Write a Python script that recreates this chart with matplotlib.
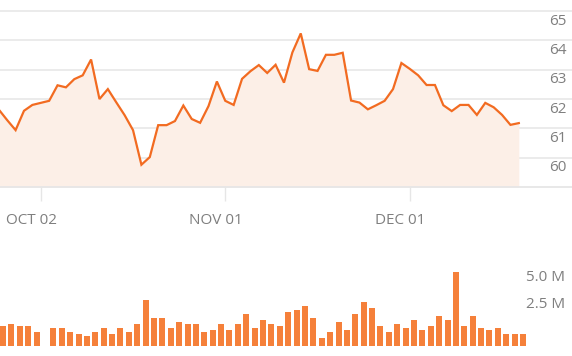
import numpy as np
import matplotlib
matplotlib.use("Agg")
import matplotlib.pyplot as plt
from matplotlib.transforms import ScaledTranslation

plt.rcParams['font.family'] = ['Open Sans', 'DejaVu Sans']

# closing price, one value per trading day
price = [61.64, 61.28, 60.94, 61.60, 61.80, 61.87, 61.94, 62.47, 62.40, 62.68,
         62.81, 63.35, 62.00, 62.34, 61.89, 61.45, 60.94, 59.76, 60.02, 61.11,
         61.11, 61.25, 61.78, 61.32, 61.19, 61.76, 62.60, 61.94, 61.80, 62.69,
         62.95, 63.16, 62.89, 63.17, 62.56, 63.59, 64.24, 63.02, 62.96, 63.51,
         63.51, 63.58, 61.95, 61.88, 61.65, 61.79, 61.94, 62.34, 63.23, 63.03,
         62.81, 62.48, 62.48, 61.79, 61.59, 61.80, 61.80, 61.46, 61.87, 61.72,
         61.46, 61.12, 61.18]

# volume in millions
volume = [1.85, 2.04, 1.85, 1.85, 1.30, 0.00, 1.67, 1.67, 1.30, 1.11,
          0.93, 1.30, 1.67, 1.11, 1.67, 1.30, 2.04, 4.26, 2.59, 2.59,
          1.67, 2.22, 2.04, 2.04, 1.30, 1.48, 2.04, 1.48, 2.04, 2.96,
          1.67, 2.41, 2.04, 1.85, 3.15, 3.33, 3.70, 2.59, 0.74, 1.30,
          2.22, 1.48, 2.96, 4.07, 3.52, 1.85, 1.30, 2.04, 1.67, 2.41,
          1.48, 1.85, 2.78, 2.41, 6.85, 1.85, 2.78, 1.67, 1.48, 1.67,
          1.11, 1.11, 1.11]

tick_idx = [5, 27, 49]
tick_labels = ['OCT 02', 'NOV 01', 'DEC 01']
price_ticks = [60, 61, 62, 63, 64, 65]
vol_ticks = [2.5, 5.0]
vol_labels = ['2.5 M', '5.0 M']

line_c = '#f26b21'
fill_c = '#fcefe7'
bar_c = '#f5803a'
grid_c = '#e6e6e6'
text_c = '#7f7f7f'

x = np.arange(len(price))
W, H = 572, 356
fig = plt.figure(figsize=(W / 100, H / 100), dpi=100)

# price panel
ax = fig.add_axes([0, (H - 187) / H, 1, 187 / H])
ax.set_xlim(0.14, 68.34)
ax.set_ylim(59, 65.38)
ax.fill_between(x, price, 59, color=fill_c, lw=0, zorder=1)
ax.plot(x, price, color=line_c, lw=1.6, zorder=3, solid_joinstyle='miter')
for v in price_ticks:
    ax.axhline(v, color=grid_c, lw=1.1, zorder=0)
ax.axhline(59, color=grid_c, lw=1.3, zorder=2, clip_on=False)
for s in ax.spines.values():
    s.set_visible(False)

ax.set_yticks(price_ticks)
ax.yaxis.tick_right()
ax.tick_params(axis='y', length=0, pad=-4, labelsize=11, labelcolor=text_c)
for lab in ax.get_yticklabels():
    lab.set_horizontalalignment('right')
    lab.set_transform(lab.get_transform() + ScaledTranslation(0, -0.08, fig.dpi_scale_trans))

ax.set_xticks(tick_idx)
ax.set_xticklabels(tick_labels)
ax.tick_params(axis='x', length=10, width=1, color=grid_c, pad=9,
               labelsize=11, labelcolor=text_c)
for lab in ax.get_xticklabels():
    lab.set_transform(lab.get_transform() + ScaledTranslation(-0.095, 0, fig.dpi_scale_trans))

# volume panel
vx = fig.add_axes([0, 10 / H, 1, 90 / H])
vx.set_xlim(0.14, 68.34)
vx.set_ylim(0, 90 / 10.8)
vx.bar(x + 0.5, volume, width=0.715, color=bar_c, lw=0)
for s in vx.spines.values():
    s.set_visible(False)
vx.set_xticks([])
vx.set_yticks(vol_ticks)
vx.set_yticklabels(vol_labels)
vx.yaxis.tick_right()
vx.tick_params(axis='y', length=0, pad=-5, labelsize=11, labelcolor=text_c)
for lab in vx.get_yticklabels():
    lab.set_horizontalalignment('right')
    lab.set_transform(lab.get_transform() + ScaledTranslation(0, 0.163, fig.dpi_scale_trans))

fig.savefig('out.png', dpi=100)
